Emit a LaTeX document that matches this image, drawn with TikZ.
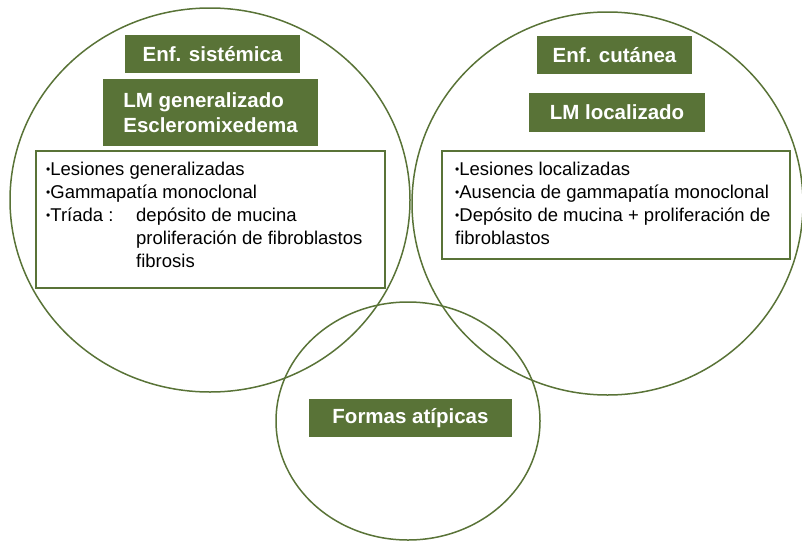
\documentclass[tikz,border=0pt]{standalone}
\usepackage{fontspec}
\setmainfont{Liberation Sans}
\definecolor{leafgreen}{RGB}{89,115,55}
\newcommand{\blt}{\raisebox{2pt}{\fontsize{12}{12}\selectfont •}}
\tikzset{
  ring/.style={draw=leafgreen, line width=1.5pt},
  titlebox/.style={fill=leafgreen, text=white, inner sep=0pt,
    font=\fontsize{20.5}{25}\selectfont\bfseries},
  framebox/.style={draw=leafgreen, line width=1.5pt, fill=white,
    inner sep=0pt, anchor=north west},
  itemtext/.style={font=\fontsize{18.5}{23}\selectfont, align=left,
    inner sep=0pt, anchor=north west}
}
\begin{document}
\begin{tikzpicture}[x=1pt,y=-1pt]
        \useasboundingbox (0,0) rectangle (802,541);
        % centres of the three circles
        \coordinate (systemic)  at (210,200);
        \coordinate (cutaneous) at (607.5,203.5);
        \coordinate (atypical)  at (408,421);
        % drawing the circles
        \draw[ring] (systemic)  ellipse [x radius=200,   y radius=192];
        \draw[ring] (cutaneous) ellipse [x radius=195.5, y radius=191.5];
        \draw[ring] (atypical)  ellipse [x radius=132,   y radius=119];
        % titles of the systemic circle
        \node[titlebox, minimum width=175pt, minimum height=38pt] (sistemica) at (212.5,54) {Enf. sistémica};
        \node[titlebox, minimum width=215pt, minimum height=67pt, align=left] (generalizado) at (210.5,112.5) {LM generalizado\\Escleromixedema};
        % titles of the cutaneous circle
        \node[titlebox, minimum width=155pt, minimum height=38pt] (cutanea) at (614.5,55) {Enf. cutánea};
        \node[titlebox, minimum width=176pt, minimum height=39pt] (localizado) at (617,112.5) {LM localizado};
        % title of the atypical circle
        \node[titlebox, minimum width=203pt, minimum height=38pt] (atipicas) at (410.5,418) {Formas atípicas};
        % framed lists
        \node[framebox, minimum width=349pt, minimum height=137pt] (sistframe) at (35,150) {};
        \node[framebox, minimum width=348pt, minimum height=108pt] (locframe)  at (441,150) {};
        \node[itemtext] (sistlist) at (46,162) {\blt Lesiones generalizadas\\
          \blt Gammapatía monoclonal\\
          \makebox[90pt][l]{\blt Tríada :}depósito de mucina\\
          \hspace*{90pt}proliferación de fibroblastos\\
          \hspace*{90pt}fibrosis};
        \node[itemtext] (loclist) at (455,162) {\blt Lesiones localizadas\\
          \blt Ausencia de gammapatía monoclonal\\
          \blt Depósito de mucina + proliferación de\\
          fibroblastos};
      \end{tikzpicture}
\end{document}
